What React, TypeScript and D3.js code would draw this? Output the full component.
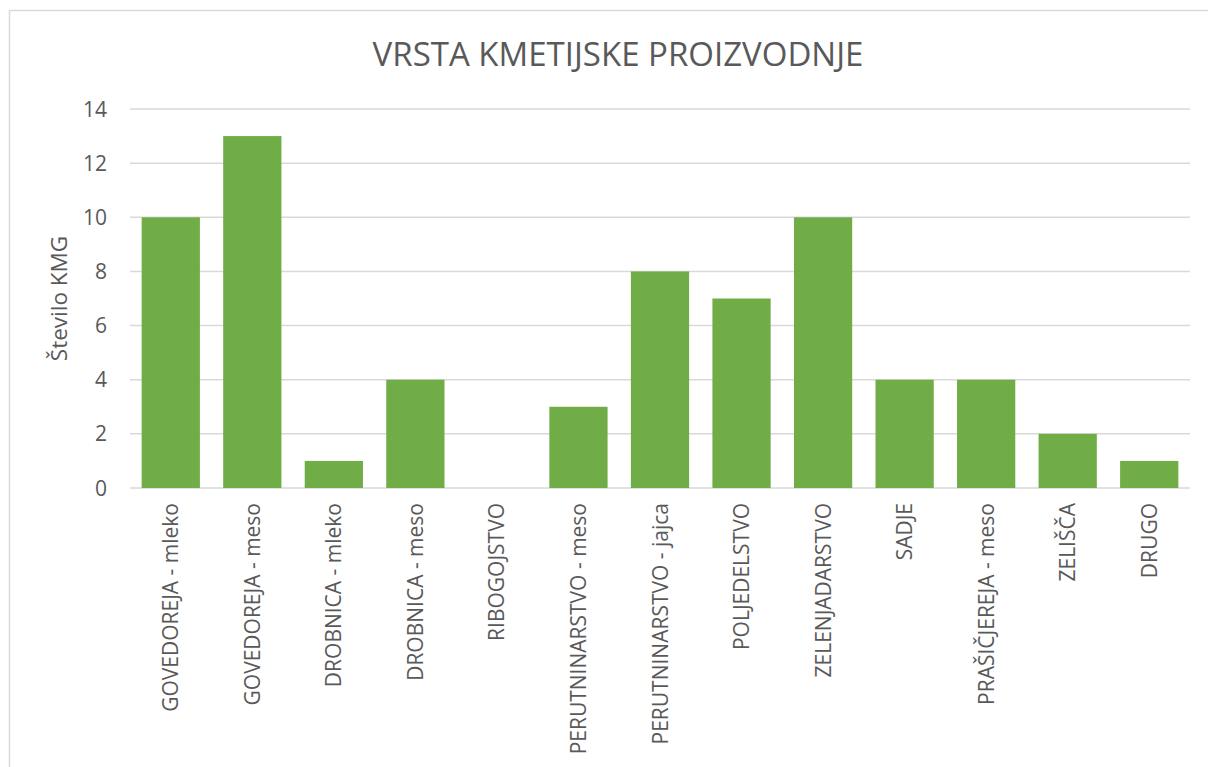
import React, { useEffect, useRef } from "react";
import * as d3 from "d3";

// categories and values
const categories = [
  "GOVEDOREJA - mleko",
  "GOVEDOREJA - meso",
  "DROBNICA - mleko",
  "DROBNICA - meso",
  "RIBOGOJSTVO",
  "PERUTNINARSTVO - meso",
  "PERUTNINARSTVO - jajca",
  "POLJEDELSTVO",
  "ZELENJADARSTVO",
  "SADJE",
  "PRAŠIČJEREJA - meso",
  "ZELIŠČA",
  "DRUGO",
];
const counts = [10, 13, 1, 4, 0, 3, 8, 7, 10, 4, 4, 2, 1];
const yTicks = [0, 2, 4, 6, 8, 10, 12, 14];

const title = "VRSTA KMETIJSKE PROIZVODNJE";
const yTitle = "Število KMG";

const width = 1208;
const height = 767;
const margin = { top: 109, right: 18, bottom: 279, left: 130 };
const font = "'Open Sans', 'DejaVu Sans', sans-serif";
const textColor = "#595959";
const gridColor = "#d9d9d9";
const barColor = "#70ad47";

export default function App() {
  const svgRef = useRef<SVGSVGElement>(null);

  useEffect(() => {
    const svg = d3.select(svgRef.current);
    svg.selectAll("*").remove();

    const x = d3
      .scaleBand()
      .domain(categories)
      .range([margin.left, width - margin.right])
      .paddingInner(0.4 / 1.4)
      .paddingOuter(0.2 / 1.4);

    const y = d3
      .scaleLinear()
      .domain([0, 14])
      .range([height - margin.bottom, margin.top]);

    // chart area frame
    svg
      .append("rect")
      .attr("x", 9.5)
      .attr("y", 10.5)
      .attr("width", width + 20)
      .attr("height", height + 20)
      .attr("fill", "#fff")
      .attr("stroke", gridColor)
      .attr("stroke-width", 1.5);

    // title
    svg
      .append("text")
      .attr("x", 618)
      .attr("y", 66)
      .attr("text-anchor", "middle")
      .style("font-family", font)
      .style("font-size", "33px")
      .attr("fill", textColor)
      .text(title);

    // gridlines
    svg
      .append("g")
      .selectAll("line")
      .data(yTicks)
      .enter()
      .append("line")
      .attr("x1", margin.left)
      .attr("x2", width - margin.right)
      .attr("y1", (d) => y(d))
      .attr("y2", (d) => y(d))
      .attr("stroke", gridColor)
      .attr("stroke-width", 1.5);

    // y tick labels
    svg
      .append("g")
      .selectAll("text")
      .data(yTicks)
      .enter()
      .append("text")
      .attr("x", 107)
      .attr("y", (d) => y(d))
      .attr("dy", "0.36em")
      .attr("text-anchor", "end")
      .style("font-family", font)
      .style("font-size", "21px")
      .attr("fill", textColor)
      .text((d) => d);

    // y title
    svg
      .append("text")
      .attr("transform", `translate(67,${(y(0) + y(14)) / 2}) rotate(-90)`)
      .attr("text-anchor", "middle")
      .style("font-family", font)
      .style("font-size", "22.5px")
      .attr("fill", textColor)
      .text(yTitle);

    // bars
    svg
      .append("g")
      .selectAll("rect")
      .data(categories)
      .enter()
      .append("rect")
      .attr("x", (d) => x(d)!)
      .attr("y", (d, i) => y(counts[i]))
      .attr("width", x.bandwidth())
      .attr("height", (d, i) => y(0) - y(counts[i]))
      .attr("fill", barColor);

    // category labels
    svg
      .append("g")
      .selectAll("text")
      .data(categories)
      .enter()
      .append("text")
      .attr(
        "transform",
        (d) => `translate(${x(d)! + x.bandwidth() / 2},${y(0) + 15}) rotate(-90)`
      )
      .attr("dy", "0.36em")
      .attr("text-anchor", "end")
      .style("font-family", font)
      .style("font-size", "21px")
      .attr("fill", textColor)
      .text((d) => d);
  }, []);

  return (
    <svg
      ref={svgRef}
      width={width}
      height={height}
      style={{ position: "fixed", left: 0, top: 0, background: "#fff" }}
    />
  );
}
